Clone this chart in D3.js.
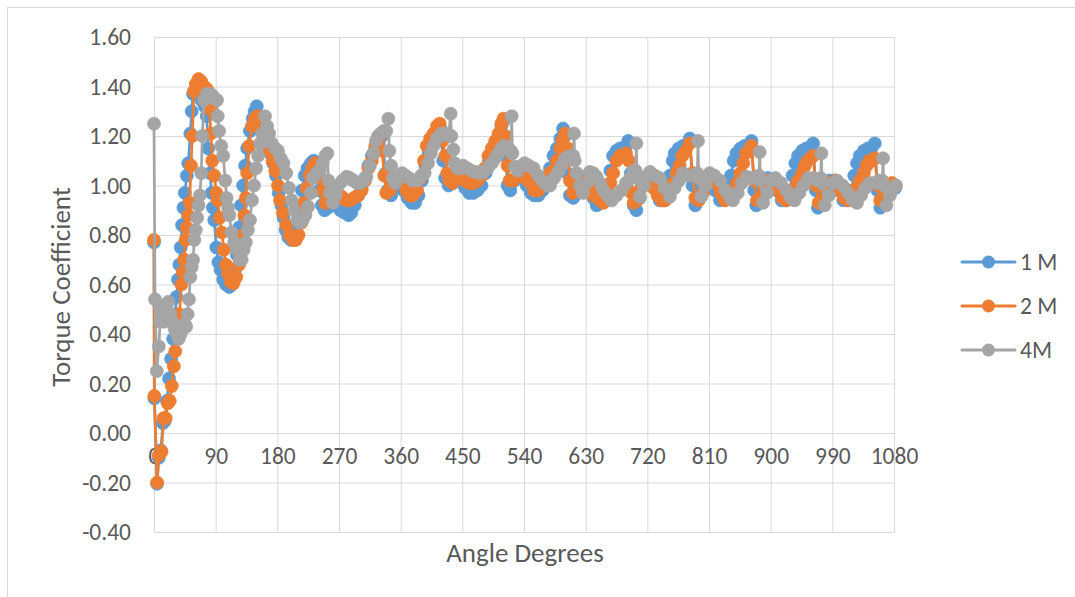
<!DOCTYPE html>
<html>
<head>
<meta charset="utf-8">
<script src="https://cdn.jsdelivr.net/npm/d3@7"></script>
<style>
  html, body { margin: 0; padding: 0; background: #fff; }
  svg { display: block; }
  text { font-family: Carlito, Lato, "Open Sans", sans-serif; fill: #595959; }
</style>
</head>
<body>
<svg id="chart" width="1075" height="597"></svg>
<script>
// ---------------- DATA ----------------
const seriesNames = ["1 M", "2 M", "4M"];
const xTickValues = [0, 90, 180, 270, 360, 450, 540, 630, 720, 810, 900, 990, 1080];
const yTickValues = [-0.4, -0.2, 0, 0.2, 0.4, 0.6, 0.8, 1.0, 1.2, 1.4, 1.6];

const angles1M = [0,0.5,4.5,7,10,13,16,19,22,25,28,31,33,35,37,39,41,43,45,48,50,53,55,57,61,65,69,74,77,79,82,84,86,88,91,94,97,101,105,110,114,
118,121,124,127,130,133,136,140,144,147,150,153,156,160,165,170,174,178,182,186,189,192,196,200,204,208,212,216,220,224,229,233,237,241,245,249,254,260,266,272,278,284,288,293,298,303,308,313,318,323,328,333,
338,341,346,352,358,364,370,376,381,386,391,396,401,406,410,414,418,422,425,430,436,442,448,454,460,466,472,478,484,489,494,498,503,507,510,513,516,520,526,532,538,544,550,555,561,567,573,578,583,588,593,597,600,603,607,612,618,624,630,636,641,646,651,656,661,666,670,675,680,685,689,692,696,700,704,709,714,720,727,733,738,744,749,753,757,760,766,772,777,782,786,790,795,801,807,813,819,826,832,838,842,846,850,856,862,867,872,876,879,884,890,896,903,909,916,922,928,932,936,940,946,952,957,962,966,969,974,980,986,993,999,1006,1012,1018,1022,1026,1030,1036,1042,1047,1052,1056,1060,1065,1071,1076,1082];
const torque1M = [0.77,0.14,-0.205,-0.10,-0.07,0.04,0.05,0.13,0.22,0.30,0.38,0.48,0.55,0.62,0.68,0.75,0.84,0.91,0.97,1.04,1.09,1.21,1.30,1.37,1.38,1.37,1.345,1.32,1.28,1.15,1.05,0.97,0.91,0.86,0.75,0.69,0.66,0.62,0.60,0.59,0.60,
0.66,0.72,0.83,0.92,1.00,1.08,1.15,1.22,1.27,1.30,1.32,1.27,1.22,1.19,1.16,1.13,1.09,1.04,0.97,0.92,0.87,0.82,0.79,0.78,0.79,0.83,0.90,0.98,1.04,1.07,1.09,1.10,1.06,0.98,0.92,0.90,0.91,0.93,0.92,0.90,0.89,0.88,0.89,0.92,0.96,0.99,1.03,1.08,1.12,1.15,1.17,1.20,
1.05,0.98,0.96,0.99,1.00,0.98,0.95,0.93,0.93,0.96,1.02,1.08,1.13,1.17,1.20,1.22,1.23,1.10,1.03,1.00,1.01,1.03,1.02,0.99,0.97,0.97,0.98,1.00,1.05,1.10,1.15,1.17,1.20,1.24,1.26,1.12,1.00,0.98,1.02,1.04,1.03,1.00,0.97,0.96,0.96,0.98,1.02,1.07,1.12,1.15,1.19,1.23,1.20,1.05,0.96,0.95,1.00,1.03,1.02,0.99,0.95,0.92,0.93,0.94,0.99,1.06,1.12,1.14,1.15,1.13,1.16,1.18,1.05,0.92,0.90,0.95,1.00,1.03,1.02,0.98,0.94,0.94,0.98,1.04,1.10,1.13,1.15,1.16,1.16,1.19,1.00,0.92,0.95,1.00,1.03,1.02,0.98,0.94,0.95,0.99,1.04,1.10,1.13,1.15,1.16,1.16,1.18,0.98,0.92,0.95,1.00,1.03,1.02,0.98,0.94,0.94,0.98,1.04,1.09,1.12,1.14,1.15,1.15,1.17,0.98,0.91,0.94,0.99,1.02,1.02,0.98,0.94,0.94,0.98,1.04,1.09,1.12,1.14,1.15,1.15,1.17,0.98,0.91,0.94,0.98,1.00,0.99];

const angles2M = [0,0.5,4.5,7,11,14,17,20,23,26,29,31,34,37,40,42,44,46,48,50,52,54,56,58,61,65,69,73,77,79,81,83,85,88,91,93,96,99,102,105,108,112,116,120,124,127,130,132,134,136,139,143,147,151,155,160,165,169,173,177,181,184,188,193,198,203,207,211,215,219,223,227,231,235,238,242,246,250,255,261,267,274,280,286,292,298,303,308,313,318,323,327,330,333,336,339,344,350,356,362,368,373,378,384,389,394,398,403,408,413,417,421,425,428,431,436,442,448,454,460,466,472,478,483,488,493,498,503,507,510,513,516,519,524,530,536,542,549,555,561,567,573,578,583,588,593,596,600,604,607,611,617,623,629,635,641,646,651,656,661,666,670,675,680,684,689,693,697,700,705,711,717,723,729,735,741,746,752,758,763,767,771,776,782,786,790,795,801,807,813,820,827,833,839,845,851,856,860,864,868,872,876,880,885,891,897,904,911,917,923,929,935,940,946,950,954,958,962,966,970,975,981,987,994,1001,1007,1013,1019,1025,1030,1036,1040,1044,1048,1052,1056,1060,1065,1071,1077,1082];
const torque2M = [0.78,0.15,-0.20,-0.09,-0.075,0.06,0.06,0.12,0.13,0.19,0.27,0.33,0.43,0.48,0.60,0.65,0.70,0.78,0.83,0.88,0.93,1.08,1.20,1.38,1.41,1.43,1.42,1.40,1.39,1.38,1.31,1.21,1.10,1.04,0.97,0.94,0.87,0.81,0.74,0.68,0.645,0.61,0.605,0.63,0.68,0.74,0.80,0.88,0.95,1.05,1.16,1.24,1.27,1.28,1.25,1.22,1.18,1.14,1.10,1.06,1.00,0.94,0.89,0.84,0.80,0.78,0.78,0.80,0.85,0.93,0.99,1.04,1.07,1.09,1.08,1.03,0.98,0.93,0.94,0.96,0.97,0.955,0.94,0.94,0.95,0.96,0.98,1.02,1.07,1.10,1.16,1.18,1.20,1.14,1.04,0.97,0.98,1.01,1.03,1.02,0.98,0.96,0.96,0.98,1.03,1.10,1.16,1.19,1.21,1.24,1.25,1.18,1.12,1.05,1.02,1.01,1.03,1.04,1.02,1.01,1.01,1.02,1.04,1.07,1.12,1.15,1.18,1.21,1.25,1.27,1.20,1.08,1.02,1.02,1.04,1.04,1.03,1.01,0.98,0.98,1.00,1.03,1.05,1.06,1.10,1.15,1.18,1.21,1.15,1.02,0.97,0.98,1.01,1.02,0.99,0.96,0.955,0.94,0.93,0.97,1.01,1.05,1.10,1.12,1.12,1.13,1.10,0.97,0.93,0.94,0.99,1.02,1.02,0.99,0.96,0.94,0.94,0.97,1.01,1.05,1.08,1.12,1.14,1.17,1.05,0.95,0.94,0.97,1.01,1.03,1.01,0.97,0.94,0.95,0.98,1.01,1.05,1.09,1.13,1.14,1.16,1.02,0.94,0.95,0.99,1.02,1.02,0.98,0.95,0.94,0.96,0.99,1.02,1.05,1.08,1.10,1.11,1.12,1.00,0.93,0.94,0.98,1.01,1.02,0.98,0.95,0.94,0.96,0.99,1.02,1.05,1.08,1.10,1.10,1.11,1.00,0.94,0.95,0.99,1.01,1.00];

const angles4M = [0,1.5,4,7,9,11,13,15,18,21,24,27,30,33,36,39,42,45,47,49,51,53,55,57,59,61,63,65,67,69,70.5,73,77,81,85,89,92,93,95,98,101,104,106,108,110,113,117,121,125,128,131,134,137,140,143,146,149,152,155,158,162,165,168,172,177,181,185,189,193,197,201,205,209,213,217,221,225,229,232,237,242,246,250,253,254.5,257,261,265,269,275,281,286,291,296,301,306,310,315,320,324,327,331,335,339,342,343.5,346,349,352,357,362,367,372,378,384,390,395,400,404,408,413,417,420,425,430,433,434,437,439,443,447,451,457,463,470,476,481,487,493,498,503,507,511,517,521,522,523,527,531,536,541,547,554,561,568,574,578,584,590,595,600,607,612,613,614,617,622,626,631,636,641,646,651,656,662,668,675,682,689,695,700,703,704,705,709,715,720,724,731,738,745,753,760,766,772,779,787,793,794,795,799,805,811,818,826,834,841,845,852,858,865,872,878,883,884,885,889,895,901,907,915,923,930,935,942,948,955,962,968,973,974,975,979,985,991,997,1005,1013,1020,1026,1032,1038,1045,1052,1058,1063,1064,1065,1069,1074,1079,1083];
const torque4M = [1.25,0.54,0.25,0.35,0.45,0.50,0.47,0.45,0.52,0.53,0.48,0.45,0.42,0.40,0.38,0.40,0.43,0.44,0.43,0.48,0.54,0.63,0.67,0.70,0.78,0.82,0.87,0.92,0.96,1.05,1.20,1.345,1.37,1.37,1.365,1.35,1.345,1.28,1.22,1.16,1.12,1.02,0.95,0.91,0.88,0.81,0.77,0.74,0.70,0.70,0.74,0.77,0.82,0.86,0.94,1.00,1.07,1.12,1.17,1.21,1.28,1.24,1.21,1.17,1.15,1.14,1.11,1.09,1.05,0.99,0.94,0.90,0.86,0.85,0.86,0.88,0.915,0.97,1.03,1.05,1.06,1.09,1.12,1.13,1.02,0.97,0.93,0.96,1.00,1.02,1.035,1.03,1.02,1.01,1.01,1.02,1.035,1.08,1.13,1.18,1.20,1.21,1.22,1.22,1.27,1.14,1.08,1.03,1.01,1.03,1.05,1.04,1.03,1.02,1.02,1.04,1.05,1.09,1.13,1.16,1.19,1.20,1.21,1.21,1.20,1.29,1.20,1.145,1.09,1.07,1.07,1.08,1.07,1.06,1.055,1.05,1.055,1.07,1.09,1.11,1.13,1.15,1.16,1.15,1.14,1.28,1.13,1.075,1.06,1.08,1.09,1.08,1.07,1.04,1.015,1.00,1.00,1.03,1.055,1.08,1.11,1.12,1.12,1.21,1.10,1.05,1.00,0.97,1.01,1.055,1.05,1.035,1.01,0.98,0.96,0.94,0.96,0.98,1.01,1.03,1.06,1.06,1.17,1.03,0.955,1.00,1.04,1.055,1.04,1.03,0.99,0.955,0.99,1.02,1.05,1.04,1.04,1.05,1.18,1.03,0.955,1.00,1.05,1.04,1.02,0.98,0.95,0.94,0.97,1.01,1.035,1.03,1.03,1.04,1.135,1.02,0.93,0.97,1.02,1.03,1.01,0.98,0.95,0.94,0.97,1.00,1.03,1.03,1.02,1.03,1.13,1.01,0.92,0.96,1.01,1.02,1.00,0.97,0.94,0.93,0.96,0.99,1.01,1.01,1.02,1.02,1.11,1.00,0.92,0.96,0.99,1.00];

const seriesColors = ["#5B9BD5", "#ED7D31", "#A5A5A5"];

// ---------------- CHART ----------------
const FONT = 'Carlito, Lato, "Open Sans", sans-serif';
const svg = d3.select("#chart");
const W = 1075, H = 597;
svg.append("rect").attr("width", W).attr("height", H).attr("fill", "#fff");
svg.append("rect").attr("x", 7.5).attr("y", 7.5).attr("width", 1080).attr("height", 600)
   .attr("fill", "none").attr("stroke", "#d9d9d9").attr("stroke-width", 1);

const x = d3.scaleLinear().domain([0, 1080]).range([154, 894]);
const y = d3.scaleLinear().domain([-0.4, 1.6]).range([532, 37]);

// gridlines
const gx = svg.append("g").attr("transform", `translate(0,${y(-0.4)})`)
  .call(d3.axisBottom(x).tickValues(xTickValues).tickSize(-(y(-0.4) - y(1.6))).tickFormat(""));
gx.select(".domain").remove();
gx.selectAll(".tick line").attr("stroke", "#d9d9d9").attr("stroke-width", 1);

const gy = svg.append("g").attr("transform", `translate(${x(0)},0)`)
  .call(d3.axisLeft(y).tickValues(yTickValues).tickSize(-(x(1080) - x(0))).tickFormat(""));
gy.select(".domain").remove();
gy.selectAll(".tick line").attr("stroke", "#d9d9d9").attr("stroke-width", 1);

// y tick labels (hyphen minus as in the original)
const fmtY = d => d3.format(".2f")(d).replace("\u2212", "-");
const yl = svg.append("g").attr("transform", `translate(131,0)`)
  .call(d3.axisLeft(y).tickValues(yTickValues).tickSize(0).tickPadding(0).tickFormat(fmtY));
yl.select(".domain").remove();
yl.selectAll("text").attr("font-size", 23.5).attr("fill", "#595959").style("font-family", FONT);

// x tick labels, next to the axis at y = 0
const xl = svg.append("g").attr("transform", `translate(0,${y(0)})`)
  .call(d3.axisBottom(x).tickValues(xTickValues).tickSize(0).tickPadding(23).tickFormat(d3.format("d")));
xl.select(".domain").attr("stroke", "#d9d9d9");
xl.selectAll("text").attr("font-size", 23.5).attr("fill", "#595959").style("font-family", FONT)
  .attr("dy", "0.32em");

// axis titles
svg.append("text").attr("x", 525).attr("y", 562).attr("text-anchor", "middle")
  .attr("font-size", 27).text("Angle Degrees");
svg.append("text").attr("transform", "translate(70,287) rotate(-90)").attr("text-anchor", "middle")
  .attr("font-size", 27).text("Torque Coefficient");

// series
const series = [
  { name: seriesNames[0], color: seriesColors[0], xs: angles1M, ys: torque1M },
  { name: seriesNames[1], color: seriesColors[1], xs: angles2M, ys: torque2M },
  { name: seriesNames[2], color: seriesColors[2], xs: angles4M, ys: torque4M }
];
const line = d3.line().x(d => x(d[0])).y(d => y(d[1]));
series.forEach(s => {
  const pts = s.xs.map((a, i) => [a, s.ys[i]]);
  const g = svg.append("g");
  g.append("path").datum(pts).attr("d", line).attr("fill", "none")
    .attr("stroke", s.color).attr("stroke-width", 2.75).attr("stroke-linejoin", "round");
  g.selectAll("circle").data(pts).enter().append("circle")
    .attr("cx", d => x(d[0])).attr("cy", d => y(d[1])).attr("r", 6.5)
    .attr("fill", s.color).attr("stroke", s.color).attr("stroke-width", 0.75);
});

// legend
const legendY = [262, 306, 350];
series.forEach((s, i) => {
  const g = svg.append("g").attr("transform", `translate(0,${legendY[i]})`);
  g.append("line").attr("x1", 962).attr("x2", 1015).attr("y1", 0).attr("y2", 0)
    .attr("stroke", s.color).attr("stroke-width", 3).attr("stroke-linecap", "round");
  g.append("circle").attr("cx", 988.5).attr("cy", 0).attr("r", 6.5).attr("fill", s.color);
  g.append("text").attr("x", 1020).attr("y", 0).attr("dy", "0.35em")
    .attr("font-size", 23.5).text(s.name);
});
</script>
</body>
</html>
